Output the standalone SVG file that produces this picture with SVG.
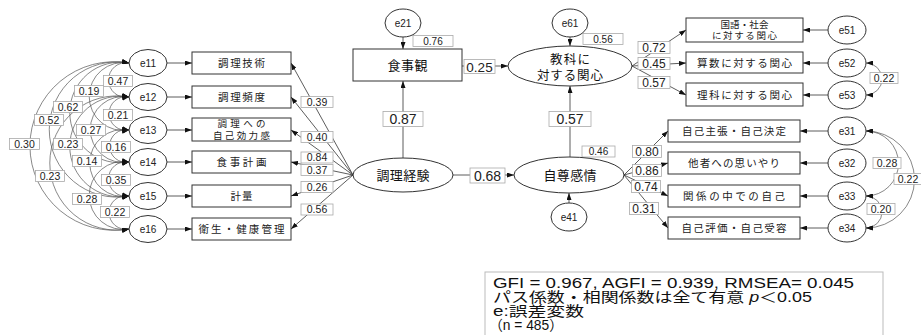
<svg xmlns="http://www.w3.org/2000/svg" width="921" height="335" viewBox="0 0 921 335">
<defs>
<marker id="ah" viewBox="0 0 7 5" refX="7" refY="2.5" markerWidth="7" markerHeight="5" markerUnits="userSpaceOnUse" orient="auto-start-reverse"><path d="M0,0 L7,2.5 L0,5 z" fill="#111"/></marker>
<style>
.nd rect,.nd ellipse{fill:#fff;stroke:#333;stroke-width:1}
.jp{font-family:"Noto Sans CJK JP",sans-serif;font-size:10.5px;fill:#222;text-anchor:middle}
.j2{font-family:"Noto Sans CJK JP",sans-serif;font-size:9.5px;fill:#222;text-anchor:middle}
.jl{font-family:"Noto Sans CJK JP",sans-serif;font-size:13px;fill:#111;text-anchor:middle}
.ev{font-family:"Liberation Sans",Arial,sans-serif;font-size:10px;fill:#222;text-anchor:middle}
.cn line,.cn path{stroke:#333;stroke-width:0.8;fill:none}
.ar{marker-end:url(#ah)}
.cn path.cv{stroke:#555;stroke-width:0.7;marker-start:url(#ah);marker-end:url(#ah)}
.lb rect{fill:#fff;stroke:#aaa;stroke-width:0.8}
.lb text{font-family:"Liberation Sans",Arial,sans-serif;font-size:10.5px;fill:#222;text-anchor:middle}
.bx{font-family:"Liberation Sans","Noto Sans CJK JP",sans-serif;font-size:14px;fill:#111}
</style>
</defs>
<rect width="921" height="335" fill="#fff"/>

<g id="connectors" class="cn">
  <line class="ar" x1="167" y1="63" x2="192" y2="63"/>
  <line class="ar" x1="167" y1="97" x2="192" y2="97"/>
  <line class="ar" x1="167" y1="130" x2="192" y2="130"/>
  <line class="ar" x1="167" y1="162" x2="192" y2="162"/>
  <line class="ar" x1="167" y1="196" x2="192" y2="196"/>
  <line class="ar" x1="167" y1="229" x2="192" y2="229"/>
  <path class="cv" d="M129,63 A17.3,17.3 0 1 0 129,97"/>
  <path class="cv" d="M129,63 A34,34 0 1 0 129,130"/>
  <path class="cv" d="M129,63 A50.3,50.3 0 1 0 129,162"/>
  <path class="cv" d="M129,63 A67.6,67.6 0 1 0 129,196"/>
  <path class="cv" d="M129,63 A84.3,84.3 0 1 0 129,229"/>
  <path class="cv" d="M129,97 A16.8,16.8 0 1 0 129,130"/>
  <path class="cv" d="M129,97 A33,33 0 1 0 129,162"/>
  <path class="cv" d="M129,97 A50.3,50.3 0 1 0 129,196"/>
  <path class="cv" d="M129,97 A67.1,67.1 0 1 0 129,229"/>
  <path class="cv" d="M129,130 A16.3,16.3 0 1 0 129,162"/>
  <path class="cv" d="M129,130 A33.5,33.5 0 1 0 129,196"/>
  <path class="cv" d="M129,162 A17.3,17.3 0 1 0 129,196"/>
  <path class="cv" d="M129,162 A34,34 0 1 0 129,229"/>
  <path class="cv" d="M129,196 A16.8,16.8 0 1 0 129,229"/>
  <line class="ar" x1="353" y1="175" x2="291" y2="63"/>
  <line class="ar" x1="353" y1="175" x2="291" y2="97"/>
  <line class="ar" x1="353" y1="175" x2="291" y2="130"/>
  <line class="ar" x1="353" y1="175" x2="291" y2="162"/>
  <line class="ar" x1="353" y1="175" x2="291" y2="196"/>
  <line class="ar" x1="353" y1="175" x2="291" y2="229"/>
  <line class="ar" x1="403" y1="37" x2="403" y2="49"/>
  <line class="ar" x1="403" y1="158" x2="403" y2="81"/>
  <line class="ar" x1="462" y1="66" x2="508" y2="66"/>
  <line class="ar" x1="570" y1="37" x2="570" y2="46"/>
  <line class="ar" x1="570" y1="157" x2="570" y2="86"/>
  <line class="ar" x1="453" y1="175" x2="514" y2="175"/>
  <line class="ar" x1="569" y1="203" x2="569" y2="193"/>
  <line class="ar" x1="632" y1="66" x2="686" y2="30"/>
  <line class="ar" x1="632" y1="66" x2="686" y2="63"/>
  <line class="ar" x1="632" y1="66" x2="686" y2="95"/>
  <line class="ar" x1="624" y1="175" x2="668" y2="131"/>
  <line class="ar" x1="624" y1="175" x2="668" y2="163"/>
  <line class="ar" x1="624" y1="175" x2="668" y2="196"/>
  <line class="ar" x1="624" y1="175" x2="668" y2="228"/>
  <line class="ar" x1="828" y1="30" x2="803" y2="30"/>
  <line class="ar" x1="828" y1="63" x2="803" y2="63"/>
  <line class="ar" x1="828" y1="95" x2="803" y2="95"/>
  <line class="ar" x1="828" y1="131" x2="800" y2="131"/>
  <line class="ar" x1="828" y1="163" x2="800" y2="163"/>
  <line class="ar" x1="828" y1="196" x2="800" y2="196"/>
  <line class="ar" x1="828" y1="228" x2="800" y2="228"/>
  <path class="cv" d="M866,63 A16,16 0 0 1 866,95"/>
  <path class="cv" d="M866,131 A32.5,32.5 0 0 1 866,196"/>
  <path class="cv" d="M866,131 A48.5,48.5 0 0 1 866,228"/>
  <path class="cv" d="M866,196 A16,16 0 0 1 866,228"/>
</g>

<g id="labels" class="lb">
  <rect x="103.5" y="75.5" width="29" height="11"/><text x="118" y="84.7">0.47</text>
  <rect x="74.5" y="85.5" width="29" height="11"/><text x="89" y="94.7">0.19</text>
  <rect x="53.5" y="101.5" width="29" height="11"/><text x="68" y="110.7">0.62</text>
  <rect x="34.5" y="114.5" width="29" height="11"/><text x="49" y="123.7">0.52</text>
  <rect x="9.5" y="138.5" width="30" height="11"/><text x="24.5" y="147.7">0.30</text>
  <rect x="103.5" y="109.5" width="29" height="11"/><text x="118" y="118.7">0.21</text>
  <rect x="76.5" y="124.5" width="29" height="11"/><text x="91" y="133.7">0.27</text>
  <rect x="53.5" y="138.5" width="29" height="11"/><text x="68" y="147.7">0.23</text>
  <rect x="35.5" y="170.5" width="29" height="11"/><text x="50" y="179.7">0.23</text>
  <rect x="101.5" y="141.5" width="29" height="11"/><text x="116" y="150.7">0.16</text>
  <rect x="72.5" y="155.5" width="29" height="11"/><text x="87" y="164.7">0.14</text>
  <rect x="101.5" y="174.5" width="29" height="11"/><text x="116" y="183.7">0.35</text>
  <rect x="72.5" y="193.5" width="29" height="11"/><text x="87" y="202.7">0.28</text>
  <rect x="100.5" y="206.5" width="29" height="11"/><text x="115" y="215.7">0.22</text>

  <rect x="301" y="96.5" width="32" height="11"/><text x="317" y="105.7">0.39</text>
  <rect x="301" y="131.5" width="32" height="11"/><text x="317" y="140.7">0.40</text>
  <rect x="301" y="152" width="32" height="11"/><text x="317" y="161.2">0.84</text>
  <rect x="301" y="164.5" width="32" height="11"/><text x="317" y="173.7">0.37</text>
  <rect x="301" y="181.5" width="32" height="11"/><text x="317" y="190.7">0.26</text>
  <rect x="301" y="204" width="32" height="11"/><text x="317" y="213.2">0.56</text>

  <rect x="413" y="35.5" width="40" height="11"/><text x="433" y="44.5" style="font-size:10px">0.76</text>
  <rect x="583" y="33.5" width="40" height="11"/><text x="603" y="42.5" style="font-size:10px">0.56</text>
  <rect x="582" y="146" width="33" height="11"/><text x="598.5" y="155" style="font-size:10px">0.46</text>
  <rect x="383" y="111.5" width="40" height="15"/><text x="403" y="124" style="font-size:14px">0.87</text>
  <rect x="549" y="111.5" width="42" height="15"/><text x="570" y="124" style="font-size:14px">0.57</text>
  <rect x="464" y="59.5" width="31" height="14"/><text x="479.5" y="71.5" style="font-size:13.5px">0.25</text>
  <rect x="470" y="168" width="35" height="15"/><text x="487.5" y="180.5" style="font-size:14px">0.68</text>

  <rect x="638" y="41.5" width="32" height="12"/><text x="654" y="51.8" style="font-size:12px">0.72</text>
  <rect x="638" y="57.5" width="32" height="12"/><text x="654" y="67.8" style="font-size:12px">0.45</text>
  <rect x="638" y="76.5" width="32" height="12"/><text x="654" y="86.8" style="font-size:12px">0.57</text>

  <rect x="632.5" y="145.5" width="29" height="12"/><text x="647" y="155.8" style="font-size:12px">0.80</text>
  <rect x="632.5" y="164.5" width="29" height="12"/><text x="647" y="174.8" style="font-size:12px">0.86</text>
  <rect x="631.5" y="180.5" width="29" height="12"/><text x="646" y="190.8" style="font-size:12px">0.74</text>
  <rect x="629.5" y="202.5" width="29" height="12"/><text x="644" y="212.8" style="font-size:12px">0.31</text>

  <rect x="870" y="72.5" width="28" height="11"/><text x="884" y="81.7">0.22</text>
  <rect x="873" y="157.5" width="28" height="11"/><text x="887" y="166.7">0.28</text>
  <rect x="894" y="173.5" width="28" height="11"/><text x="908" y="182.7">0.22</text>
  <rect x="867" y="203.5" width="28" height="11"/><text x="881" y="212.7">0.20</text>
</g>

<g id="e11" class="nd"><ellipse cx="148" cy="63" rx="19" ry="13.5"/><text class="ev" x="148" y="66.5">e11</text></g>
<g id="e12" class="nd"><ellipse cx="148" cy="97" rx="19" ry="13.5"/><text class="ev" x="148" y="100.5">e12</text></g>
<g id="e13" class="nd"><ellipse cx="148" cy="130" rx="19" ry="13.5"/><text class="ev" x="148" y="133.5">e13</text></g>
<g id="e14" class="nd"><ellipse cx="148" cy="162" rx="19" ry="13.5"/><text class="ev" x="148" y="165.5">e14</text></g>
<g id="e15" class="nd"><ellipse cx="148" cy="196" rx="19" ry="13.5"/><text class="ev" x="148" y="199.5">e15</text></g>
<g id="e16" class="nd"><ellipse cx="148" cy="229" rx="19" ry="13.5"/><text class="ev" x="148" y="232.5">e16</text></g>

<g id="n_gijutsu" class="nd"><rect x="192" y="52" width="99" height="22"/><text class="jp" x="241.5" y="67" textLength="47">調理技術</text></g>
<g id="n_hindo" class="nd"><rect x="192" y="86" width="99" height="22"/><text class="jp" x="241.5" y="101" textLength="47">調理頻度</text></g>
<g id="n_kouryoku" class="nd"><rect x="192" y="118" width="99" height="23"/><text class="j2"><tspan x="241.5" y="127" textLength="48">調理への</tspan><tspan x="241.5" y="138.5" textLength="57">自己効力感</tspan></text></g>
<g id="n_keikaku" class="nd"><rect x="192" y="151" width="99" height="22"/><text class="jp" x="241.5" y="166" textLength="50">食事計画</text></g>
<g id="n_keiryou" class="nd"><rect x="192" y="185" width="99" height="22"/><text class="jp" x="241.5" y="200" textLength="22">計量</text></g>
<g id="n_eisei" class="nd"><rect x="192" y="218" width="99" height="22"/><text class="jp" x="241.5" y="233" textLength="86">衛生・健康管理</text></g>

<g id="e21" class="nd"><ellipse cx="403" cy="23" rx="18" ry="14"/><text class="ev" x="403" y="26.5">e21</text></g>
<g id="n_shokujikan" class="nd"><rect x="353" y="49" width="109" height="32"/><text class="jl" x="407.5" y="70" textLength="40">食事観</text></g>
<g id="e61" class="nd"><ellipse cx="570" cy="23" rx="18" ry="14"/><text class="ev" x="570" y="26.5">e61</text></g>
<g id="n_kyouka" class="nd"><ellipse cx="570" cy="66" rx="62" ry="20"/><text class="jl" style="font-size:12.5px"><tspan x="570" y="63.5" textLength="40">教科に</tspan><tspan x="570" y="80" textLength="66">対する関心</tspan></text></g>
<g id="n_keiken" class="nd"><ellipse cx="403" cy="175" rx="50" ry="17"/><text class="jl" x="403" y="180" textLength="53">調理経験</text></g>
<g id="n_jison" class="nd"><ellipse cx="569" cy="175" rx="55" ry="18"/><text class="jl" x="570" y="180" textLength="53">自尊感情</text></g>
<g id="e41" class="nd"><ellipse cx="569" cy="217" rx="18" ry="14"/><text class="ev" x="569" y="220.5">e41</text></g>

<g id="n_kokugo" class="nd"><rect x="686" y="18" width="117" height="24"/><text class="j2"><tspan x="744.5" y="28" textLength="48">国語・社会</tspan><tspan x="744.5" y="39" textLength="65">に対する関心</tspan></text></g>
<g id="n_sansu" class="nd"><rect x="686" y="52" width="117" height="21"/><text class="jp" x="744.5" y="66.5" textLength="95">算数に対する関心</text></g>
<g id="n_rika" class="nd"><rect x="686" y="83" width="117" height="23"/><text class="jp" x="744.5" y="98.5" textLength="95">理科に対する関心</text></g>
<g id="e51" class="nd"><ellipse cx="847" cy="30" rx="19" ry="14"/><text class="ev" x="847" y="33.5">e51</text></g>
<g id="e52" class="nd"><ellipse cx="847" cy="63" rx="19" ry="14"/><text class="ev" x="847" y="66.5">e52</text></g>
<g id="e53" class="nd"><ellipse cx="847" cy="95" rx="19" ry="14"/><text class="ev" x="847" y="98.5">e53</text></g>

<g id="n_shuchou" class="nd"><rect x="668" y="120" width="132" height="22"/><text class="jp" x="734" y="135" textLength="104">自己主張・自己決定</text></g>
<g id="n_omoiyari" class="nd"><rect x="668" y="152" width="132" height="22"/><text class="jp" x="734" y="167" textLength="92">他者への思いやり</text></g>
<g id="n_kankei" class="nd"><rect x="668" y="185" width="132" height="22"/><text class="jp" x="734" y="200" textLength="102">関係の中での自己</text></g>
<g id="n_hyouka" class="nd"><rect x="668" y="217" width="132" height="22"/><text class="jp" x="734" y="232" textLength="105">自己評価・自己受容</text></g>
<g id="e31" class="nd"><ellipse cx="847" cy="131" rx="19" ry="14"/><text class="ev" x="847" y="134.5">e31</text></g>
<g id="e32" class="nd"><ellipse cx="847" cy="163" rx="19" ry="14"/><text class="ev" x="847" y="166.5">e32</text></g>
<g id="e33" class="nd"><ellipse cx="847" cy="196" rx="19" ry="14"/><text class="ev" x="847" y="199.5">e33</text></g>
<g id="e34" class="nd"><ellipse cx="847" cy="228" rx="19" ry="14"/><text class="ev" x="847" y="231.5">e34</text></g>

<g id="fitbox">
  <rect x="485" y="272" width="398" height="80" fill="#fff" stroke="#bbb" stroke-width="1"/>
  <text class="bx" x="493" y="288" textLength="361" lengthAdjust="spacingAndGlyphs">GFI = 0.967, AGFI = 0.939, RMSEA= 0.045</text>
  <text class="bx" x="493" y="302" textLength="319" lengthAdjust="spacingAndGlyphs">パス係数・相関係数は全て有意 <tspan font-style="italic">p</tspan>＜0.05</text>
  <text class="bx" x="493" y="316" textLength="91" lengthAdjust="spacingAndGlyphs">e:誤差変数</text>
  <text class="bx" x="489" y="330" textLength="74" lengthAdjust="spacingAndGlyphs">（n = 485）</text>
</g>
</svg>
